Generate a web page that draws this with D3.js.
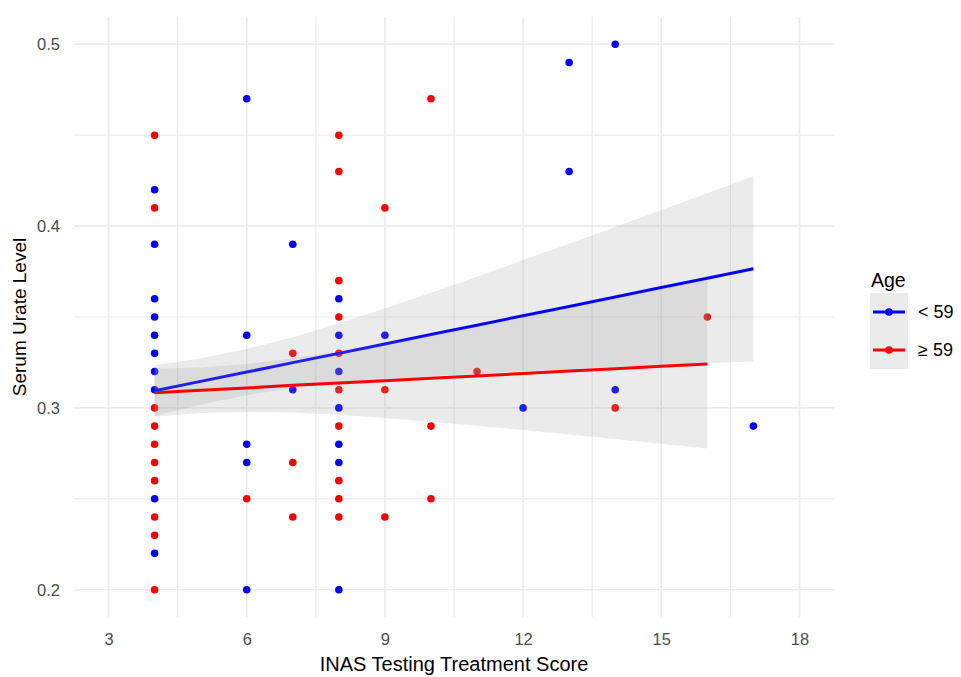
<!DOCTYPE html>
<html>
<head>
<meta charset="utf-8">
<script src="https://cdn.jsdelivr.net/npm/d3@7"></script>
<style>
  html, body { margin: 0; padding: 0; background: #ffffff; }
  svg { display: block; font-family: "Liberation Sans", Arial, sans-serif; }
</style>
</head>
<body>
<svg id="chart" width="961" height="677"></svg>
<script>
// Serum urate by INAS testing treatment score, split by age group
const blueX = [4,4,4,4,4,4,4,4,4,4, 6,6,6,6,6, 7,7, 8,8,8,8,8,8,8, 9, 12, 13,13, 14,14, 17];
const blueY = [0.42,0.39,0.36,0.35,0.34,0.33,0.32,0.31,0.25,0.22,
               0.47,0.34,0.28,0.27,0.20,
               0.39,0.31,
               0.36,0.34,0.32,0.30,0.28,0.27,0.20,
               0.34, 0.30, 0.49,0.43, 0.50,0.31, 0.29];
const redX = [4,4,4,4,4,4,4,4,4,4, 6, 7,7,7, 8,8,8,8,8,8,8,8,8,8, 9,9,9, 10,10,10, 11, 14, 16];
const redY = [0.45,0.41,0.30,0.29,0.28,0.27,0.26,0.24,0.23,0.20,
              0.25,
              0.33,0.27,0.24,
              0.45,0.43,0.37,0.35,0.33,0.31,0.29,0.26,0.25,0.24,
              0.41,0.31,0.24,
              0.47,0.29,0.25,
              0.32, 0.30, 0.35];

// Linear fits with 95% confidence bands (lm smoother)
const blueFitX = [4,5,6,7,8,9,10,11,12,13,14,15,16,17];
const blueFit  = [0.3094,0.3146,0.3197,0.3249,0.3300,0.3352,0.3404,0.3455,0.3507,0.3558,0.3610,0.3662,0.3713,0.3765];
const blueLo   = [0.2954,0.3019,0.3070,0.3108,0.3135,0.3157,0.3174,0.3188,0.3202,0.3213,0.3225,0.3236,0.3246,0.3256];
const blueHi   = [0.3235,0.3273,0.3324,0.3389,0.3465,0.3547,0.3634,0.3722,0.3813,0.3903,0.3995,0.4088,0.4180,0.4274];
const redFitX  = [4,5,6,7,8,9,10,11,12,13,14,15,16];
const redFit   = [0.3084,0.3097,0.3110,0.3124,0.3137,0.3150,0.3163,0.3176,0.3189,0.3203,0.3216,0.3229,0.3242];
const redLo    = [0.2952,0.2972,0.2978,0.2975,0.2962,0.2945,0.2924,0.2902,0.2878,0.2854,0.2829,0.2803,0.2777];
const redHi    = [0.3216,0.3222,0.3242,0.3273,0.3312,0.3355,0.3402,0.3450,0.3500,0.3552,0.3603,0.3655,0.3707];

const xTicks = [3, 6, 9, 12, 15, 18];
const xMinor = [4.5, 7.5, 10.5, 13.5, 16.5];
const yTicks = [0.2, 0.3, 0.4, 0.5];
const yMinor = [0.25, 0.35, 0.45];

const groups = ["< 59", "\u2265 59"];
const groupColors = ["#0000ff", "#ff0000"];

const xTitle = "INAS Testing Treatment Score";
const yTitle = "Serum Urate Level";
const legendTitle = "Age";

const svg = d3.select("#chart");
const panel = { left: 74, right: 834, top: 17, bottom: 617 };

const x = d3.scaleLinear().domain([2.25, 18.75]).range([panel.left, panel.right]);
const y = d3.scaleLinear().domain([0.185, 0.515]).range([panel.bottom, panel.top]);

// grid
const grid = svg.append("g").attr("class", "grid");
grid.selectAll("line.vminor").data(xMinor).join("line")
  .attr("x1", d => x(d)).attr("x2", d => x(d))
  .attr("y1", panel.top).attr("y2", panel.bottom)
  .attr("stroke", "#ebebeb").attr("stroke-width", 1.2);
grid.selectAll("line.hminor").data(yMinor).join("line")
  .attr("y1", d => y(d)).attr("y2", d => y(d))
  .attr("x1", panel.left).attr("x2", panel.right)
  .attr("stroke", "#ebebeb").attr("stroke-width", 1.2);
grid.selectAll("line.vmajor").data(xTicks).join("line")
  .attr("x1", d => x(d)).attr("x2", d => x(d))
  .attr("y1", panel.top).attr("y2", panel.bottom)
  .attr("stroke", "#ebebeb").attr("stroke-width", 1.6);
grid.selectAll("line.hmajor").data(yTicks).join("line")
  .attr("y1", d => y(d)).attr("y2", d => y(d))
  .attr("x1", panel.left).attr("x2", panel.right)
  .attr("stroke", "#ebebeb").attr("stroke-width", 1.6);

// points
const pts = svg.append("g").attr("class", "points");
const blueRows = blueX.map((v, i) => ({ x: v, y: blueY[i] }));
const redRows = redX.map((v, i) => ({ x: v, y: redY[i] }));
pts.selectAll("circle.b").data(blueRows).join("circle")
  .attr("cx", d => x(d.x)).attr("cy", d => y(d.y)).attr("r", 3.8)
  .attr("fill", groupColors[0]);
pts.selectAll("circle.r").data(redRows).join("circle")
  .attr("cx", d => x(d.x)).attr("cy", d => y(d.y)).attr("r", 3.8)
  .attr("fill", groupColors[1]);

// smoothers: ribbon then line for each group
const area = d3.area().x(d => x(d.x)).y0(d => y(d.lo)).y1(d => y(d.hi));
const line = d3.line().x(d => x(d.x)).y(d => y(d.fit));
const fits = [
  blueFitX.map((v, i) => ({ x: v, fit: blueFit[i], lo: blueLo[i], hi: blueHi[i] })),
  redFitX.map((v, i) => ({ x: v, fit: redFit[i], lo: redLo[i], hi: redHi[i] }))
];
const sm = svg.append("g").attr("class", "smooth");
fits.forEach((rows, gi) => {
  sm.append("path").attr("d", area(rows))
    .attr("fill", "#999999").attr("fill-opacity", 0.2);
  sm.append("path").attr("d", line(rows))
    .attr("fill", "none").attr("stroke", groupColors[gi]).attr("stroke-width", 3);
});

// axes
const xAxis = svg.append("g")
  .attr("transform", `translate(0,${panel.bottom})`)
  .call(d3.axisBottom(x).tickValues(xTicks).tickSize(0).tickPadding(16).tickFormat(d3.format("d")));
xAxis.select(".domain").remove();
xAxis.selectAll("text").attr("font-size", 16.5).attr("fill", "#4d4d4d")
  .attr("font-family", "Liberation Sans, Arial, sans-serif");

const yAxis = svg.append("g")
  .attr("transform", `translate(${panel.left},0)`)
  .call(d3.axisLeft(y).tickValues(yTicks).tickSize(0).tickPadding(14).tickFormat(d3.format(".1f")));
yAxis.select(".domain").remove();
yAxis.selectAll("text").attr("font-size", 16.5).attr("fill", "#4d4d4d")
  .attr("font-family", "Liberation Sans, Arial, sans-serif");

// axis titles
svg.append("text")
  .attr("x", 454).attr("y", 671)
  .attr("text-anchor", "middle").attr("font-size", 20).attr("fill", "#000")
  .text(xTitle);
svg.append("text")
  .attr("transform", `translate(26,${(panel.top + panel.bottom) / 2}) rotate(-90)`)
  .attr("text-anchor", "middle").attr("font-size", 19).attr("fill", "#000")
  .text(yTitle);

// legend
const lg = svg.append("g").attr("transform", "translate(870,0)");
lg.append("text").attr("x", 1).attr("y", 287).attr("font-size", 19.5).attr("fill", "#000").text(legendTitle);
const keyY = [312, 350];
groups.forEach((g, i) => {
  lg.append("rect").attr("x", 0).attr("y", keyY[i] - 19).attr("width", 38).attr("height", 38)
    .attr("fill", "#999999").attr("fill-opacity", 0.2);
  lg.append("line").attr("x1", 3).attr("x2", 35).attr("y1", keyY[i]).attr("y2", keyY[i])
    .attr("stroke", groupColors[i]).attr("stroke-width", 3);
  lg.append("circle").attr("cx", 19).attr("cy", keyY[i]).attr("r", 3.8).attr("fill", groupColors[i]);
  lg.append("text").attr("x", 48).attr("y", keyY[i]).attr("dy", "0.35em")
    .attr("font-size", 18).attr("fill", "#000").text(g);
});
</script>
</body>
</html>
